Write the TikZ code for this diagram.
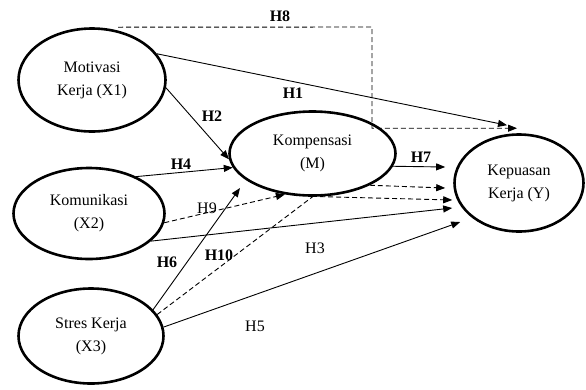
\documentclass[tikz,border=0pt]{standalone}
\usepackage{fontspec}
\setmainfont{Liberation Serif}
\usetikzlibrary{shapes.geometric,arrows.meta,calc}
\begin{document}
\begin{tikzpicture}[x=1pt,y=-1pt,
  var/.style={draw,ellipse,line width=2.6pt,inner sep=0pt,align=center,font=\fontsize{16}{23}\selectfont},
  arr/.style={line width=0.9pt,-{Triangle[length=9pt,width=7pt]}},
  ln/.style={line width=0.9pt},
  dsh/.style={dash pattern=on 5pt off 3pt},
  hlab/.style={font=\fontsize{16}{19}\selectfont\bfseries},
  hlabn/.style={font=\fontsize{16}{19}\selectfont}]
\useasboundingbox (0,0) rectangle (586,389);
\fill[white] (0,0) rectangle (586,389);
% variables
\node[var,minimum width=147pt,minimum height=103pt] (mot) at (92,80) {Motivasi\\Kerja (X1)};
\node[var,minimum width=151pt,minimum height=91pt] (kom) at (89,213.5) {Komunikasi\\(X2)};
\node[var,minimum width=145pt,minimum height=95pt] (str) at (91,336) {Stres Kerja\\(X3)};
\node[var,minimum width=166pt,minimum height=84pt] (komp) at (312.5,153.5) {Kompensasi\\(M)};
\node[var,minimum width=129pt,minimum height=97pt] (kep) at (519,183) {Kepuasan\\Kerja (Y)};
% connectors
\coordinate (h8corner) at (372,27);
\draw[arr,dsh] ($(mot.north)+(26,0)$) -- (h8corner) |- ($(kep.north)+(-2,-5)$);
\draw[arr] (mot.22) -- ($(kep.north)+(-12,-8)$);
\draw[arr] (mot.-6) -- (komp.184);
\draw[arr] (kom.38) -- (komp.190);
\draw[arr] (komp.-9) -- ($(kep.west)+(-8,-16)$);
\draw[arr,dsh] (komp.-29) -- ($(kep.west)+(-8,5)$);
\draw[arr,dsh] (komp.-80) -- ($(kep.west)+(-1,17)$);
\draw[arr,dsh] (kom.-7) -- (komp.236);
\draw[arr] (kom.-24) -- ($(kep.west)+(-1,25)$);
\coordinate (h6tip) at (240,188);
\draw[arr] (str.23) -- (h6tip);
\draw[ln,dsh] (str.18) -- (komp.south);
\draw[arr] (str.7) -- ($(kep.west)+(7,39)$);
% labels
\node[hlab] (lh8) at (280,16) {H8};
\node[hlab] (lh1) at (293,93) {H1};
\node[hlab] (lh2) at (212,116) {H2};
\node[hlab] (lh4) at (181,164) {H4};
\node[hlab] (lh7) at (421,157) {H7};
\node[hlabn] (lh9) at (207,208) {H9};
\node[hlab] (lh6) at (167,262) {H6};
\node[hlab] (lh10) at (219,255) {H10};
\node[hlabn] (lh3) at (315,248) {H3};
\node[hlabn] (lh5) at (255,326) {H5};
\end{tikzpicture}
\end{document}
